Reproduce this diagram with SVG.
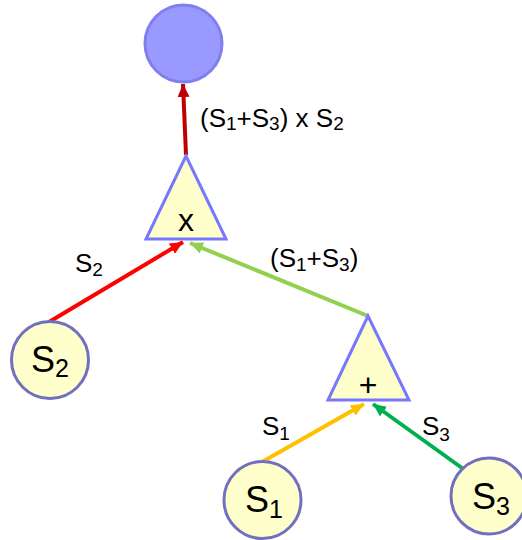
<svg xmlns="http://www.w3.org/2000/svg" width="522" height="540" viewBox="0 0 522 540">
<style>
text{font-family:"Liberation Sans",Arial,sans-serif;fill:#000}
.lbl{font-size:26px}
.node{font-size:36px}
.op{font-size:32px}
.edge{fill:none;stroke-width:4}
.yc{fill:#ffffcc;stroke:#7070c0;stroke-width:3}
.tri{fill:#ffffcc;stroke:#7777ff;stroke-width:3;stroke-linejoin:miter}
</style>
<defs>
<marker id="mDR" markerUnits="userSpaceOnUse" markerWidth="14" markerHeight="12" refX="13" refY="6" orient="auto"><path d="M0,0 L13,6 L0,12 z" fill="#C00000"/></marker>
<marker id="mR" markerUnits="userSpaceOnUse" markerWidth="14" markerHeight="12" refX="13" refY="6" orient="auto"><path d="M0,0 L13,6 L0,12 z" fill="#FF0000"/></marker>
<marker id="mLG" markerUnits="userSpaceOnUse" markerWidth="14" markerHeight="12" refX="13" refY="6" orient="auto"><path d="M0,0 L13,6 L0,12 z" fill="#92D050"/></marker>
<marker id="mY" markerUnits="userSpaceOnUse" markerWidth="14" markerHeight="12" refX="13" refY="6" orient="auto"><path d="M0,0 L13,6 L0,12 z" fill="#FFC000"/></marker>
<marker id="mG" markerUnits="userSpaceOnUse" markerWidth="14" markerHeight="12" refX="13" refY="6" orient="auto"><path d="M0,0 L13,6 L0,12 z" fill="#00B050"/></marker>
</defs>
<g id="connectors">
<line class="edge" x1="186" y1="155" x2="183" y2="84" stroke="#C00000" marker-end="url(#mDR)"/>
<line class="edge" x1="49" y1="322" x2="183" y2="242" stroke="#FF0000" marker-end="url(#mR)"/>
<line class="edge" x1="368" y1="316" x2="190" y2="243" stroke="#92D050" marker-end="url(#mLG)"/>
<line class="edge" x1="262" y1="462" x2="364" y2="404" stroke="#FFC000" marker-end="url(#mY)"/>
<line class="edge" x1="462" y1="468" x2="373" y2="404" stroke="#00B050" marker-end="url(#mG)"/>
<text class="lbl" x="200" y="127">(S<tspan font-size="19" dy="3">1</tspan><tspan dy="-3">+S</tspan><tspan font-size="19" dy="3">3</tspan><tspan dy="-3">) x S</tspan><tspan font-size="19" dy="3">2</tspan></text>
<text class="lbl" x="75" y="272">S<tspan font-size="19" dy="4">2</tspan></text>
<text class="lbl" x="270" y="267">(S<tspan font-size="19" dy="4">1</tspan><tspan dy="-4">+S</tspan><tspan font-size="19" dy="4">3</tspan><tspan dy="-4">)</tspan></text>
<text class="lbl" x="262" y="435">S<tspan font-size="19" dy="5">1</tspan></text>
<text class="lbl" x="422" y="435">S<tspan font-size="19" dy="6">3</tspan></text>
</g>
<g id="result">
<circle cx="183.5" cy="43.5" r="38.5" fill="#9999ff" stroke="#7f7ff0" stroke-width="3"/>
</g>
<g id="mult">
<polygon class="tri" points="186,156 146,239 226,239"/>
<text class="op" x="186" y="231" text-anchor="middle">x</text>
</g>
<g id="add">
<polygon class="tri" points="368,316 328,400 409,400"/>
<text class="op" x="368" y="396" text-anchor="middle">+</text>
</g>
<g id="s2">
<circle class="yc" cx="50" cy="360" r="38.5"/>
<text class="node" x="50" y="372" text-anchor="middle">S<tspan font-size="25" dy="5">2</tspan></text>
</g>
<g id="s1">
<circle class="yc" cx="262.5" cy="500" r="38.5"/>
<text class="node" x="264" y="512" text-anchor="middle">S<tspan font-size="25" dy="6">1</tspan></text>
</g>
<g id="s3">
<circle class="yc" cx="489" cy="496" r="38"/>
<text class="node" x="491" y="509" text-anchor="middle">S<tspan font-size="25" dy="6">3</tspan></text>
</g>
</svg>
